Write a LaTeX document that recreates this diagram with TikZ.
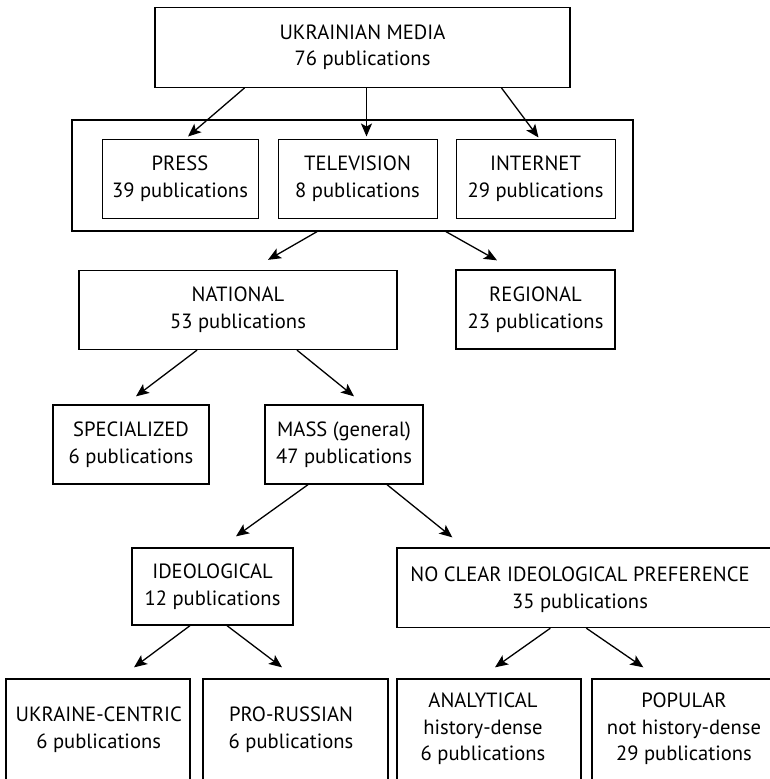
\documentclass[tikz,border=0pt]{standalone}
\usepackage{fontspec}
\setmainfont{PT Sans}
\usetikzlibrary{arrows.meta}
\begin{document}
\begin{tikzpicture}[x=1pt,y=-1pt,
  box/.style={draw, line width=1.3pt, rectangle, inner sep=0pt, align=center, font=\fontsize{20.6}{26.7}\selectfont},
  ibox/.style={box, line width=1pt},
  txt/.style={inner sep=0pt, align=center, font=\fontsize{20.6}{26.7}\selectfont},
  arr/.style={-{Stealth[length=13pt,width=11pt,inset=3pt]}, line width=1.3pt}]
\useasboundingbox (0,0) rectangle (770,779);
\clip (0,0) rectangle (770,779);

% level 0
\node[box, minimum width=415pt, minimum height=80pt] (top) at (362.5,47.3) {UKRAINIAN MEDIA\\76 publications};

% level 1
\node[box, minimum width=561pt, minimum height=111pt] (cont) at (352.5,175.5) {};
\node[ibox, minimum width=156pt, minimum height=79pt] (press) at (180,178.5) {PRESS\\39 publications};
\node[ibox, minimum width=159pt, minimum height=79pt] (tv) at (357.5,178.5) {TELEVISION\\8 publications};
\node[ibox, minimum width=159pt, minimum height=79pt] (inet) at (535.5,178.5) {INTERNET\\29 publications};

% level 2
\node[box, minimum width=318pt, minimum height=79pt] (nat) at (238,310) {NATIONAL\\53 publications};
\node[box, minimum width=159pt, minimum height=79pt] (reg) at (535.5,309.5) {REGIONAL\\23 publications};

% level 3
\node[box, minimum width=156pt, minimum height=79pt] (spec) at (131,444.5) {SPECIALIZED\\6 publications};
\node[box, minimum width=158pt, minimum height=79pt] (mass) at (344,444.5) {MASS (general)\\47 publications};

% level 4
\node[box, minimum width=161pt, minimum height=77pt] (ideo) at (212.5,586.5) {IDEOLOGICAL\\12 publications};
\node[box, minimum width=393pt, minimum height=79.5pt] (nocl) at (593.5,587.8) {};
\node[txt] (noclt) at (580,589.5) {NO CLEAR IDEOLOGICAL PREFERENCE\\35 publications};

% level 5
\node[box, minimum width=184pt, minimum height=121pt] (ukr) at (98,739.5) {};
\node[txt] (ukrt) at (98.7,730) {UKRAINE-CENTRIC\\6 publications};
\node[box, minimum width=185pt, minimum height=121pt] (prorus) at (295.5,739.5) {};
\node[txt] (prorust) at (291,730) {PRO-RUSSIAN\\6 publications};
\node[box, minimum width=184pt, minimum height=121pt] (anal) at (489,739.5) {};
\node[txt] (analt) at (483,729) {ANALYTICAL\\history-dense\\6 publications};
\node[box, minimum width=198pt, minimum height=121pt] (pop) at (691,739.5) {};
\node[txt] (popt) at (684,729) {POPULAR\\not history-dense\\29 publications};

% connectors
\draw[arr] ([xshift=-118pt]top.south) -- ([xshift=8pt,yshift=2pt]press.north);
\draw[arr] ([xshift=4pt]top.south) -- ([xshift=9pt,yshift=2pt]tv.north);
\draw[arr] ([xshift=139pt]top.south) -- ([xshift=3pt,yshift=1pt]inet.north);

\draw[arr] ([xshift=-35.5pt]cont.south) -- ([xshift=30pt,yshift=10pt]nat.north);
\draw[arr] ([xshift=93.5pt]cont.south) -- ([xshift=-38.5pt,yshift=9pt]reg.north);

\draw[arr] ([xshift=-41pt]nat.south) -- ([xshift=5pt,yshift=8pt]spec.north);
\draw[arr] ([xshift=59pt]nat.south) -- ([xshift=10pt,yshift=8pt]mass.north);

\draw[arr] ([xshift=-36pt]mass.south) -- ([xshift=23.5pt,yshift=11pt]ideo.north);
\draw[arr] ([xshift=43pt]mass.south) -- ([xshift=56pt,yshift=10pt]nocl.north west);

\draw[arr] ([xshift=-22.5pt]ideo.south) -- ([xshift=36pt,yshift=11pt]ukr.north);
\draw[arr] ([xshift=14.5pt]ideo.south) -- ([xshift=-13.5pt,yshift=11pt]prorus.north);

\draw[arr] ([xshift=154pt]nocl.south west) -- ([xshift=6pt,yshift=11pt]anal.north);
\draw[arr] ([xshift=190pt]nocl.south west) -- ([xshift=52pt,yshift=11pt]pop.north west);
\end{tikzpicture}
\end{document}
